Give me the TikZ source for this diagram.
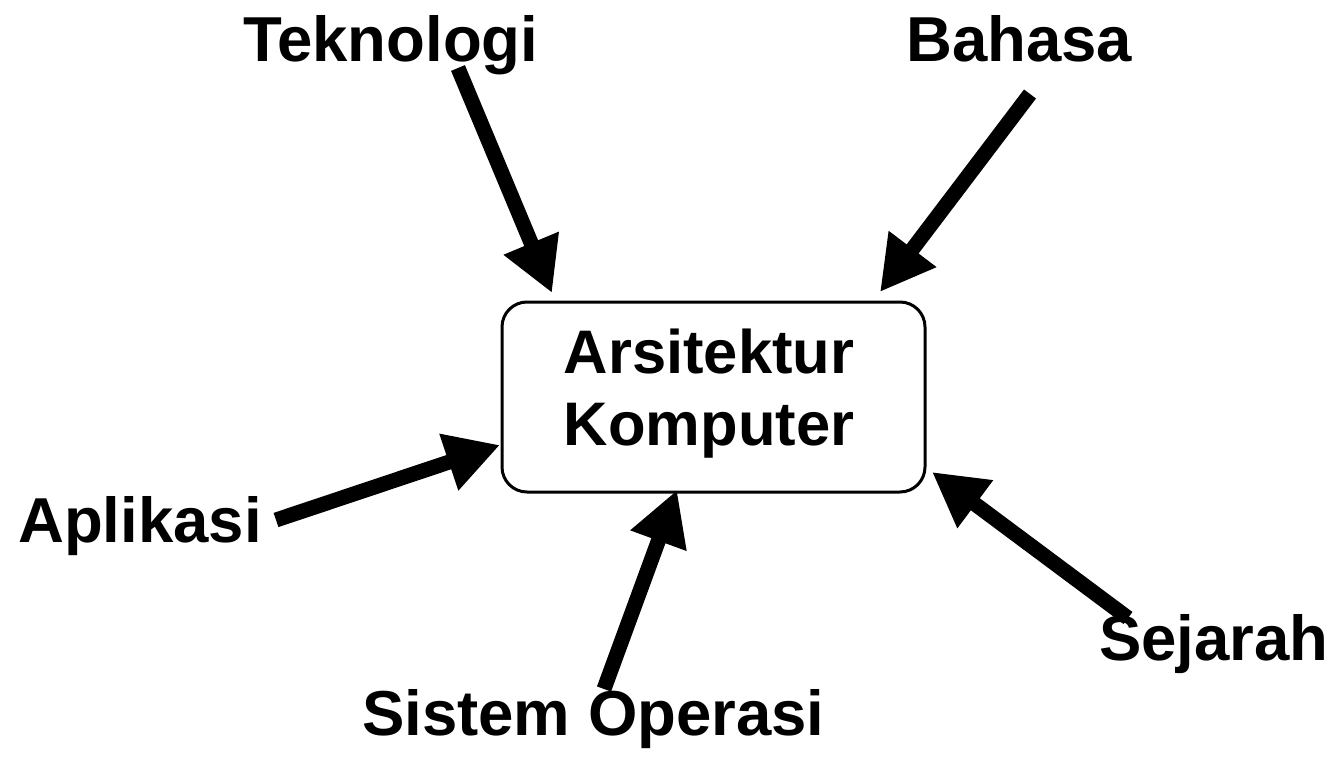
\documentclass[tikz,border=0pt]{standalone}
\usepackage{fontspec}
\setmainfont{Liberation Sans}
\usetikzlibrary{arrows.meta}
\begin{document}
\begin{tikzpicture}[x=1pt,y=-1pt,
  lbl/.style={font=\fontsize{63.5}{72}\selectfont\bfseries, inner sep=0pt, anchor=base west},
  mainbox/.style={draw, line width=3pt, rounded corners=25pt, minimum width=423pt, minimum height=190pt, inner sep=0pt},
  boxtext/.style={align=center, inner sep=0pt, font=\fontsize{61.5}{72}\selectfont\bfseries},
  bigarrow/.style={line width=15pt, -{Triangle[length=54pt,width=56pt]}}]
\useasboundingbox (0,0) rectangle (1329,759);
\node[mainbox] (box) at (713.5,397) {};
\node[boxtext] (boxtxt) at (709,394) {Arsitektur\\Komputer};
\node[lbl] (tek) at (243,62) {Teknologi};
\node[lbl] (bah) at (906,62) {Bahasa};
\node[lbl] (apl) at (18,542) {Aplikasi};
\node[lbl] (sis) at (362,735) {Sistem Operasi};
\node[lbl] (sej) at (1099,660) {Sejarah};
\coordinate (tekT) at (458,68);
\coordinate (tekH) at (552,293);
\coordinate (bahT) at (1030,94);
\coordinate (bahH) at (880,292);
\coordinate (aplT) at (276,520);
\coordinate (aplH) at (500,445);
\coordinate (sisT) at (604,689);
\coordinate (sisH) at (677,490);
\coordinate (sejT) at (1128,618);
\coordinate (sejH) at (932,472);
\draw[bigarrow] (tekT) -- (tekH);
\draw[bigarrow] (bahT) -- (bahH);
\draw[bigarrow] (aplT) -- (aplH);
\draw[bigarrow] (sisT) -- (sisH);
\draw[bigarrow] (sejT) -- (sejH);
\end{tikzpicture}
\end{document}
